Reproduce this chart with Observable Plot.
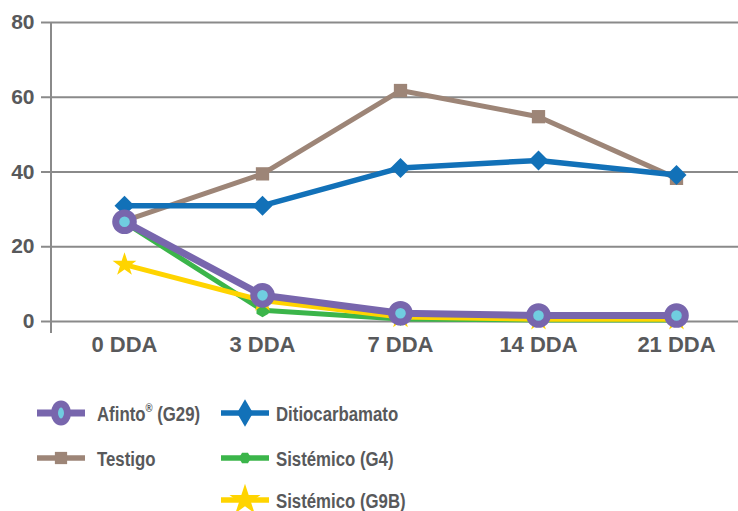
<!DOCTYPE html>
<html><head><meta charset="utf-8">
<script src="https://cdn.jsdelivr.net/npm/d3@7"></script>
<script src="https://cdn.jsdelivr.net/npm/@observablehq/plot@0.6"></script>
<style>
body{margin:0;background:#fff;font-family:"Liberation Sans",Arial,sans-serif;}
#chart svg{display:block}
</style></head><body><div id="chart"></div>
<script>
const categories = ["0 DDA","3 DDA","7 DDA","14 DDA","21 DDA"];
const yTicks = [0,20,40,60,80];
const testigo = [26.9, 39.5, 61.8, 54.8, 38.3];
const ditiocarbamato = [31.0, 31.0, 41.1, 43.1, 39.2];
const sistemicoG4 = [26.5, 3.0, 0.7, 0.4, 0.4];
const sistemicoG9B = [15.2, 5.6, 1.2, 0.6, 0.6];
const afinto = [26.7, 7.0, 2.2, 1.6, 1.6];
const seriesNames = ["Testigo","Ditiocarbamato","Sistémico (G4)","Sistémico (G9B)","Afinto® (G29)"];

const C = {purple:"#7866ad", cyan:"#70cde0", brown:"#9d8577", blue:"#1271b8", green:"#3bb54a", yellow:"#ffd400", text:"#58595b", grid:"#8a8a8a"};

function rowsOf(values){ return categories.map((c,i)=>({x:c, y:values[i]})); }

const W = 738, H = 370;
const sym = (name, r, fill) => ({x:"x", y:"y", symbol:name, r, fill, stroke:"none"});

const plot = Plot.plot({
  width: W, height: H,
  marginLeft: 51, marginRight: 0, marginTop: 22, marginBottom: 49,
  style: {fontFamily: '"Liberation Sans", Arial, sans-serif', color: C.text, background: "#fff"},
  x: {type: "point", domain: categories, range: [122, 677], padding: 0, label: null},
  y: {domain: [0, 80], label: null},
  marks: [
    Plot.ruleY(yTicks, {stroke: C.grid, strokeWidth: 2}),
    (index, scales, values, dims) => {
      const l = document.createElementNS("http://www.w3.org/2000/svg","line");
      const x0 = dims.marginLeft;
      l.setAttribute("x1", x0); l.setAttribute("x2", x0);
      l.setAttribute("y1", dims.marginTop); l.setAttribute("y2", dims.height - dims.marginBottom + 12);
      l.setAttribute("stroke", C.grid); l.setAttribute("stroke-width", 2);
      return l;
    },
    Plot.axisY({ticks: yTicks, tickSize: 10, tickPadding: 7, stroke: C.grid, strokeWidth: 2, fill: C.text, fontSize: 21, fontWeight: "bold", label: null, tickFormat: d => String(d)}),
    Plot.axisX({tickSize: 0, tickPadding: 15, fill: C.text, fontSize: 22, fontWeight: "bold", label: null}),
    Plot.line(rowsOf(testigo), {x:"x", y:"y", stroke: C.brown, strokeWidth: 5}),
    Plot.dot(rowsOf(testigo), sym("square", 7.5, C.brown)),
    Plot.line(rowsOf(ditiocarbamato), {x:"x", y:"y", stroke: C.blue, strokeWidth: 5.5}),
    Plot.dot(rowsOf(ditiocarbamato), sym("diamond2", 9, C.blue)),
    Plot.line(rowsOf(sistemicoG4), {x:"x", y:"y", stroke: C.green, strokeWidth: 5}),
    Plot.dot(rowsOf(sistemicoG4), sym("hexagon", 6, C.green)),
    Plot.line(rowsOf(sistemicoG9B), {x:"x", y:"y", stroke: C.yellow, strokeWidth: 5}),
    Plot.dot(rowsOf(sistemicoG9B), sym("star", 7.5, C.yellow)),
    Plot.line(rowsOf(afinto), {x:"x", y:"y", stroke: C.purple, strokeWidth: 7}),
    Plot.dot(rowsOf(afinto), {x:"x", y:"y", r: 8.8, fill: C.cyan, stroke: C.purple, strokeWidth: 7})
  ]
});
document.getElementById("chart").appendChild(plot);

// Legend
const legendItems = [
  {name: seriesNames[4], color: C.purple, col: 0, row: 0, kind: "afinto"},
  {name: seriesNames[1], color: C.blue, col: 1, row: 0, kind: "diamond"},
  {name: seriesNames[0], color: C.brown, col: 0, row: 1, kind: "square"},
  {name: seriesNames[2], color: C.green, col: 1, row: 1, kind: "hexagon"},
  {name: seriesNames[3], color: C.yellow, col: 1, row: 2, kind: "star"}
];
const colX = [[37, 85, 97], [221, 269, 276]];
const rowY = [43, 88, 130];
const lg = d3.select("#chart").append("svg").attr("width", W).attr("height", 141).style("display","block");
const hexPath = (r) => d3.line()(d3.range(6).map(i => [r * Math.cos(Math.PI/3*i), r * Math.sin(Math.PI/3*i)])) + "Z";
for (const it of legendItems) {
  const [a, b, tx] = colX[it.col];
  const cy = rowY[it.row], cx = (a + b) / 2;
  const g = lg.append("g");
  g.append("line").attr("x1", a).attr("x2", b).attr("y1", cy).attr("y2", cy)
    .attr("stroke", it.color).attr("stroke-width", it.kind === "afinto" ? 7 : 5.5);
  if (it.kind === "afinto") {
    g.append("ellipse").attr("cx", cx).attr("cy", cy).attr("rx", 6.5).attr("ry", 9).attr("fill", C.cyan).attr("stroke", C.purple).attr("stroke-width", 7);
  } else if (it.kind === "hexagon") {
    g.append("path").attr("d", hexPath(6)).attr("transform", `translate(${cx},${cy})`).attr("fill", it.color);
  } else {
    const t = {diamond: d3.symbolDiamond, square: d3.symbolSquare, star: d3.symbolStar}[it.kind];
    const size = {diamond: 220, square: 150, star: 300}[it.kind];
    g.append("path").attr("d", d3.symbol(t, size)()).attr("transform", `translate(${cx},${cy})`).attr("fill", it.color);
  }
  const text = g.append("text").attr("transform", `translate(${tx},${cy}) scale(0.8,1)`)
    .attr("dy", "0.36em").attr("fill", C.text).attr("font-size", 21).attr("font-weight", "bold")
    .attr("font-family", '"Liberation Sans", Arial, sans-serif');
  if (it.name.includes("®")) {
    const [pre, post] = it.name.split("®");
    text.append("tspan").text(pre);
    text.append("tspan").text("®").attr("font-size", 12).attr("dy", "-0.7em");
    text.append("tspan").text(post).attr("dy", "0.42em");
  } else {
    text.text(it.name);
  }
}
</script></body></html>
